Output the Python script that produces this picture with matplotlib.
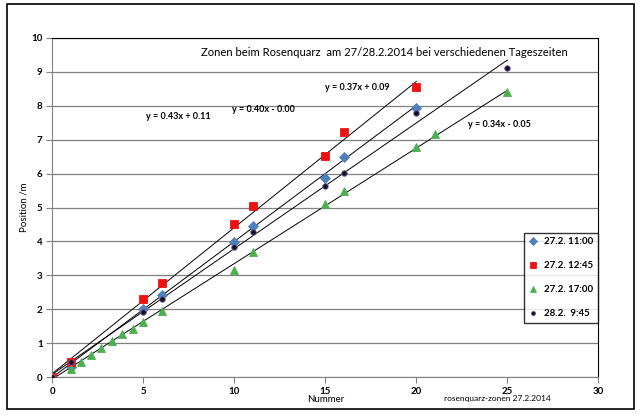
import numpy as np
import matplotlib
matplotlib.use('Agg')
import matplotlib.pyplot as plt
from matplotlib.patches import Rectangle

plt.rcParams['font.family'] = ['Lato', 'DejaVu Sans']

x_1100 = [0, 1, 5, 6, 10, 11, 15, 16, 20]
y_1100 = [0, 0.30, 2.01, 2.43, 3.97, 4.47, 5.87, 6.48, 7.92]

x_1245 = [0, 1, 5, 6, 10, 11, 15, 16, 20]
y_1245 = [0, 0.46, 2.30, 2.79, 4.52, 5.03, 6.53, 7.22, 8.55]

x_1700 = [0, 1, 1.6, 2.15, 2.7, 3.3, 3.85, 4.45, 5, 6, 10, 11, 15, 16, 20, 21, 25]
y_1700 = [0, 0.25, 0.46, 0.66, 0.87, 1.08, 1.27, 1.43, 1.62, 1.94,
          3.15, 3.69, 5.11, 5.50, 6.79, 7.15, 8.41]

x_0945 = [0, 1, 5, 6, 10, 11, 15, 16, 20, 25]
y_0945 = [0, 0.45, 1.92, 2.31, 3.85, 4.27, 5.62, 6.02, 7.78, 9.12]

# Trendlinien (Steigung, Achsenabschnitt wie im Diagramm angegeben)
slope = [0.40, 0.43, 0.34, 0.37]
icept = [0.00, 0.11, -0.05, 0.09]
eq_text = ['y = 0.40x - 0.00', 'y = 0.43x + 0.11', 'y = 0.34x - 0.05', 'y = 0.37x + 0.09']
eq_pos = [(9.89, 7.88), (5.13, 7.68), (22.86, 7.44), (14.98, 8.53)]

labels = ['27.2. 11:00', '27.2. 12:45', '27.2. 17:00', '28.2.  9:45']
xs = [x_1100, x_1245, x_1700, x_0945]
ys = [y_1100, y_1245, y_1700, y_0945]
markers = ['D', 's', '^', 'o']
sizes = [5.2, 5.8, 5.5, 4]
faces = ['#4F81BD', '#EE1111', '#4CAF50', '#111122']
edges = ['#4F81BD', '#EE1111', '#4CAF50', '#7B5EA7']

fig = plt.figure(figsize=(6.41, 4.16), dpi=100)
ax = fig.add_axes([0.0816, 0.0930, 0.8518, 0.8164])

fig.patches.append(Rectangle((7 / 641, 1 - 409 / 416), 627 / 641, 405 / 416,
                             transform=fig.transFigure, fill=False,
                             edgecolor='black', linewidth=1.2))

for i in range(4):
    xl = np.array([0, max(xs[i])])
    ax.plot(xl, slope[i] * xl + icept[i], color='black', linewidth=0.7, zorder=2)
for i in range(4):
    ax.plot(xs[i], ys[i], linestyle='none', marker=markers[i], markersize=sizes[i],
            markerfacecolor=faces[i], markeredgecolor=edges[i], markeredgewidth=0.6,
            label=labels[i], zorder=3)

for t, (px, py) in zip(eq_text, eq_pos):
    ax.text(px, py, t, fontsize=6.5, fontweight='bold', ha='left', va='center')

ax.text(18.24, 9.57, 'Zonen beim Rosenquarz  am 27/28.2.2014 bei verschiedenen Tageszeiten',
        fontsize=8.1, ha='center', va='center')

ax.set_xlim(0, 30)
ax.set_ylim(0, 10)
ax.set_xticks(range(0, 31, 5))
ax.set_yticks(range(0, 11))
ax.grid(axis='y', color='#808080', linewidth=0.9)
ax.set_axisbelow(True)
ax.tick_params(labelsize=7, length=4, color='#808080', pad=3)
for lab in ax.get_xticklabels() + ax.get_yticklabels():
    lab.set_fontweight('bold')
ax.spines['left'].set_color('#808080')
ax.spines['bottom'].set_color('#808080')
ax.spines['top'].set_color('black')
ax.spines['right'].set_color('black')

ax.set_xlabel('Nummer', fontsize=7, labelpad=-1)
ax.set_ylabel('Position /m', fontsize=7, labelpad=2)
fig.text(497 / 641, 1 - 398 / 416, 'rosenquarz-zonen 27.2.2014', fontsize=6,
         ha='center', va='center')

leg = ax.legend(loc='upper left', bbox_to_anchor=(0.8645, 0.4258), borderaxespad=0,
                fontsize=7, frameon=True, fancybox=False, edgecolor='black',
                labelspacing=1.55, handlelength=0.8, handletextpad=0.8,
                borderpad=0.45, markerscale=0.75)
leg.get_frame().set_linewidth(1.0)
for t in leg.get_texts():
    t.set_fontweight('bold')

fig.savefig('out.png', dpi=100)
